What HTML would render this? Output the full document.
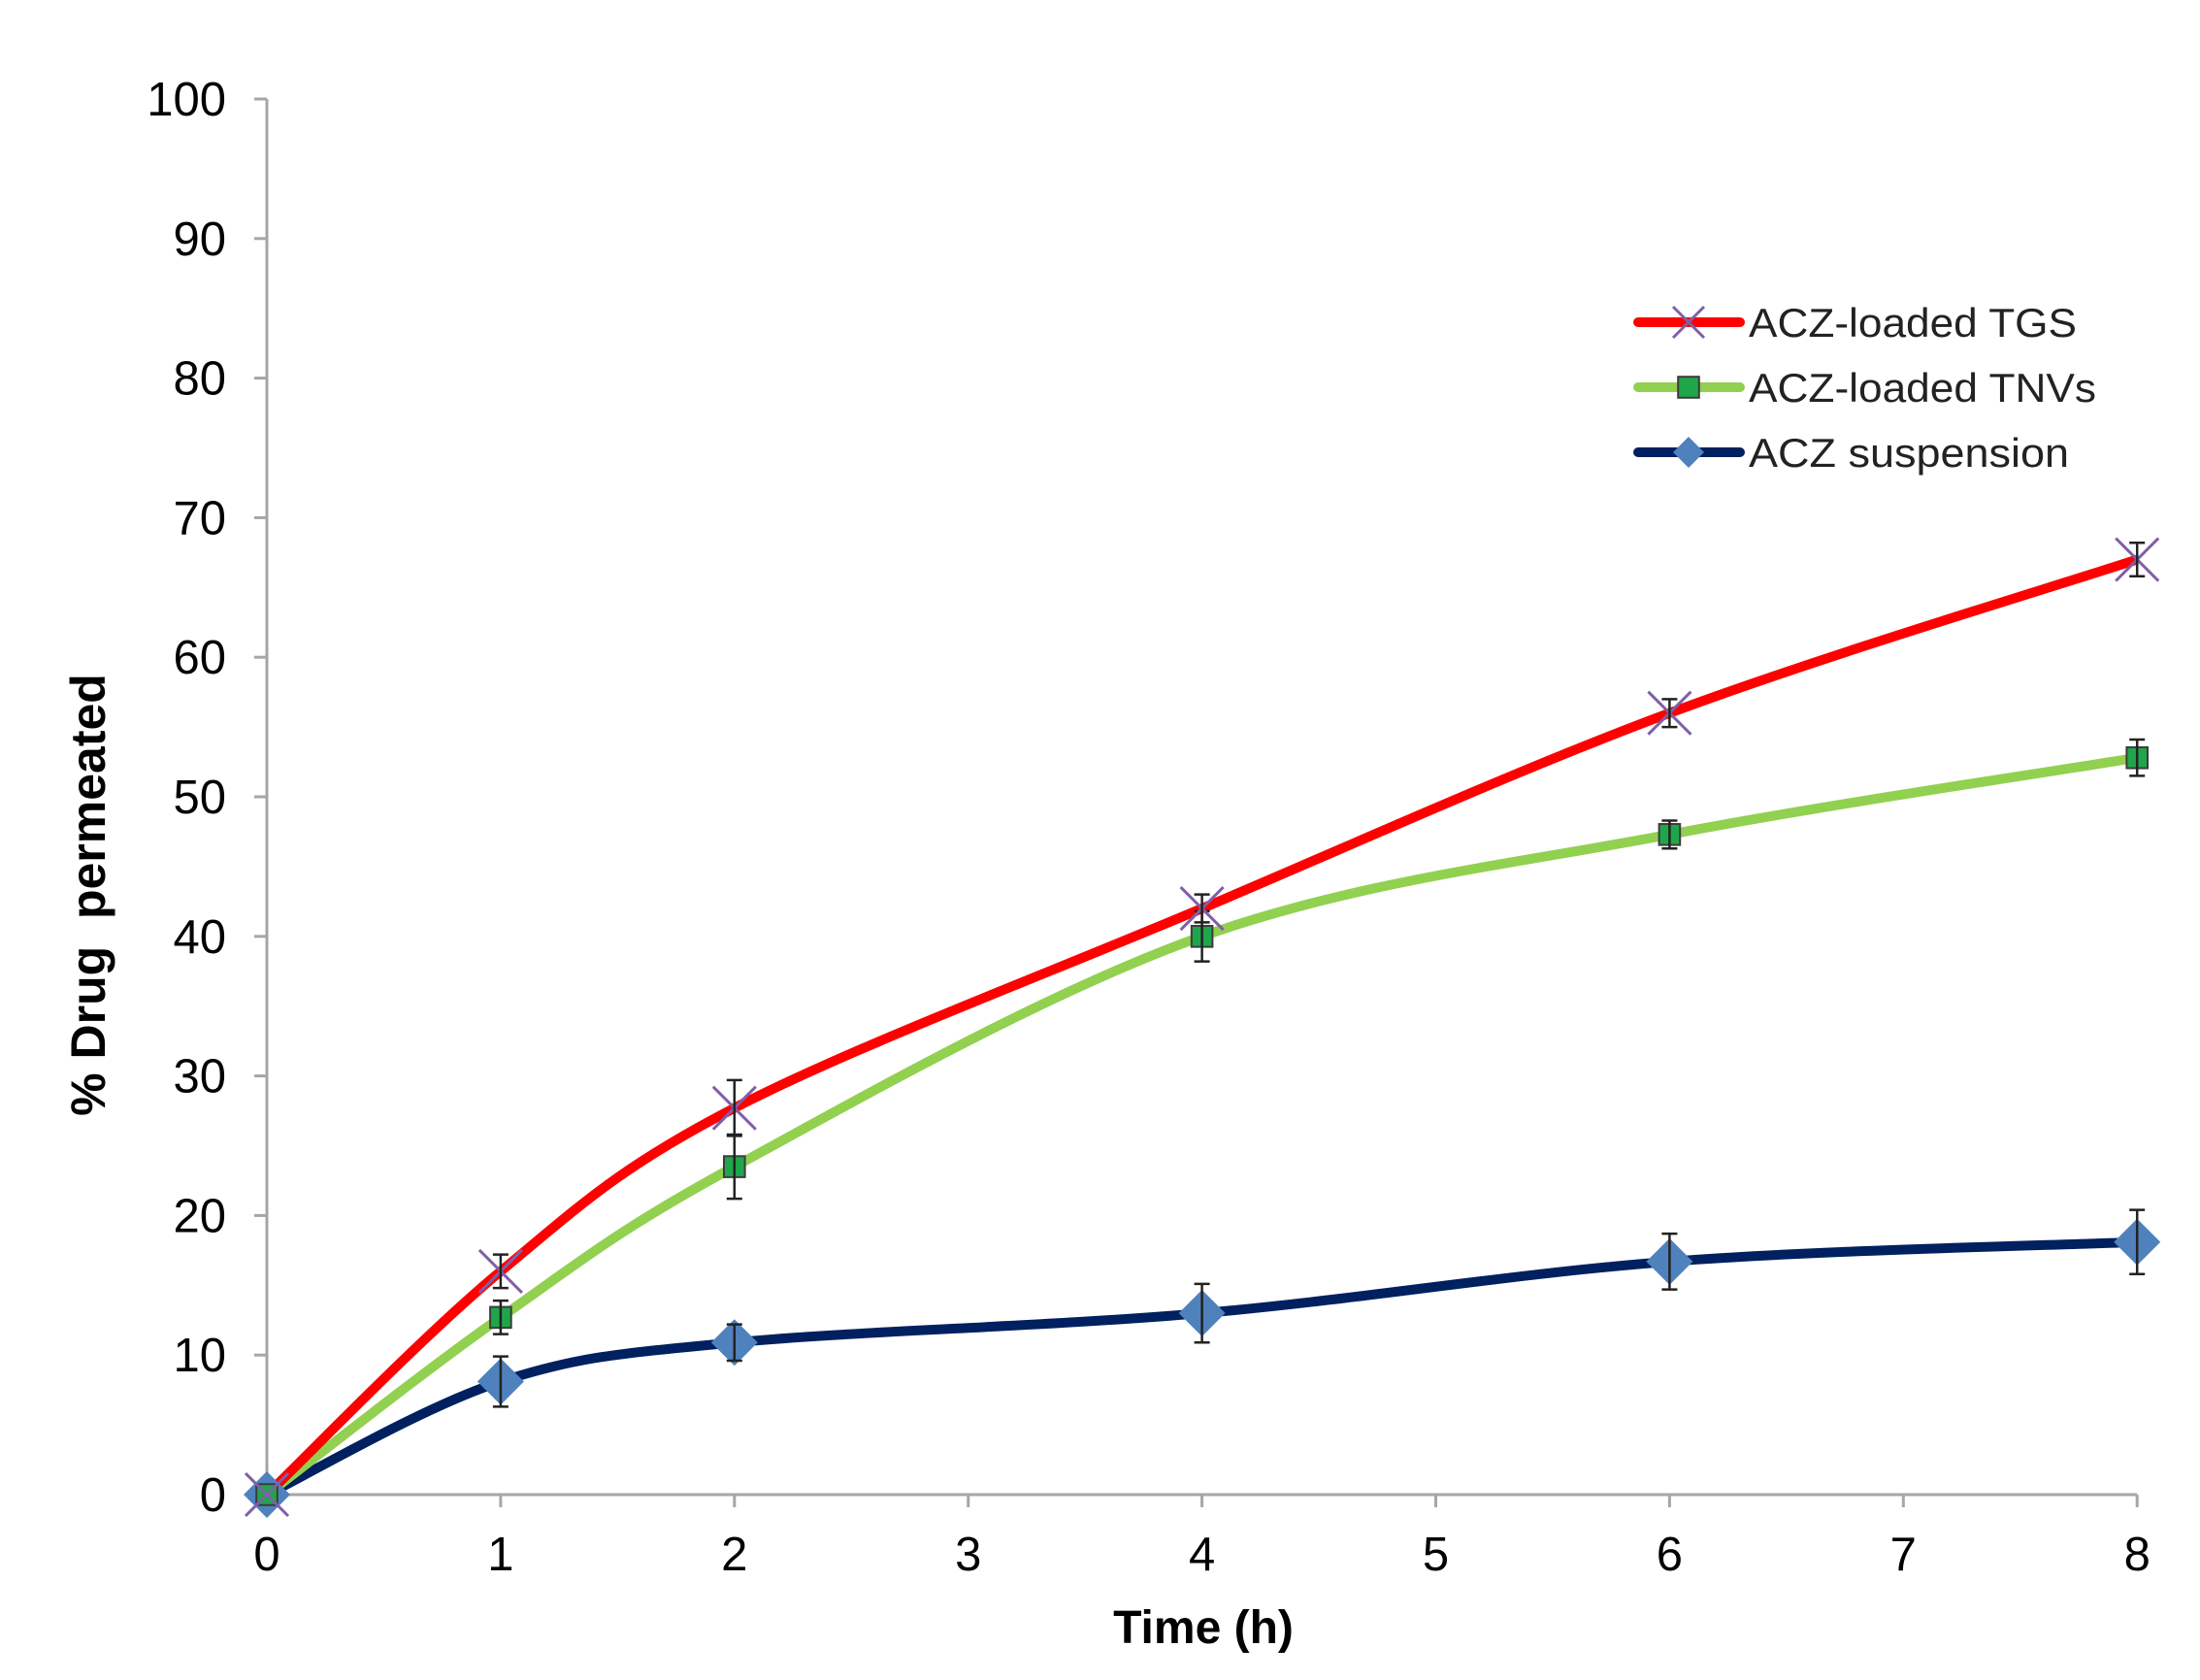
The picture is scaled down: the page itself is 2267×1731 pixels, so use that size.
<!DOCTYPE html>
<html><head><meta charset="utf-8"><style>
html,body{margin:0;padding:0;background:#fff;}
svg{display:block;}
text{font-family:"Liberation Sans",Arial,sans-serif;}
</style></head><body>
<svg id="s" width="2267" height="1731" viewBox="0 0 2267 1731" xmlns="http://www.w3.org/2000/svg">
<rect width="2267" height="1731" fill="#fff"/>
<g id="axes" stroke="#a6a6a6" stroke-width="3" fill="none"></g>
<g id="labels" font-size="49" fill="#000"></g>
<text x="108" y="922" transform="rotate(-90 108 922)" text-anchor="middle" font-size="50" font-weight="bold" xml:space="preserve">% Drug  permeated</text>
<text x="1240" y="1693" text-anchor="middle" font-size="48" font-weight="bold">Time (h)</text>
<g id="plot"></g>
<g id="legend"></g>
</svg>
<script>
const NS="http://www.w3.org/2000/svg";
const X=t=>275+240.9*t, Y=v=>1540-14.38*v;
function el(p,tag,a,txt){const e=document.createElementNS(NS,tag);for(const k in a)e.setAttribute(k,a[k]);if(txt!==undefined)e.textContent=txt;p.appendChild(e);return e;}
const ax=document.getElementById('axes'),lb=document.getElementById('labels'),pl=document.getElementById('plot'),lg=document.getElementById('legend');
el(ax,'line',{x1:275,y1:Y(100),x2:275,y2:Y(0)});
el(ax,'line',{x1:275,y1:Y(0),x2:X(8),y2:Y(0)});
for(let v=0;v<=100;v+=10){el(ax,'line',{x1:262,y1:Y(v),x2:275,y2:Y(v)});el(lb,'text',{x:233,y:Y(v)+17,'text-anchor':'end'},v);}
for(let t=0;t<=8;t++){el(ax,'line',{x1:X(t),y1:Y(0),x2:X(t),y2:Y(0)+13});el(lb,'text',{x:X(t),y:1618,'text-anchor':'middle'},t);}
const T=[0,1,2,4,6,8];
const S=[
 {c:'#ff0000',v:[0,16,27.7,42,56,67],e:[0,1.2,2,1,1,1.2],m:'x'},
 {c:'#92d050',v:[0,12.7,23.5,40,47.3,52.8],e:[0,1.2,2.3,1.8,1,1.3],m:'sq'},
 {c:'#002060',v:[0,8.1,10.9,13,16.7,18.1],e:[0,1.8,1.3,2.1,2,2.3],m:'d'}];
function path(pts){let d=`M${pts[0][0]},${pts[0][1]}`;for(let i=0;i<pts.length-1;i++){const p0=pts[i-1]||pts[i],p1=pts[i],p2=pts[i+1],p3=pts[i+2]||p2;const k=1/6;
d+=` C${p1[0]+(p2[0]-p0[0])*k},${p1[1]+(p2[1]-p0[1])*k} ${p2[0]-(p3[0]-p1[0])*k},${p2[1]-(p3[1]-p1[1])*k} ${p2[0]},${p2[1]}`;}return d;}
function marker(g,m,x,y,s){
 if(m==='x'){el(g,'path',{d:`M${x-s},${y-s}L${x+s},${y+s}M${x-s},${y+s}L${x+s},${y-s}`,stroke:'#7f5fa8','stroke-width':3,fill:'none'});}
 else if(m==='sq'){el(g,'rect',{x:x-s*0.6,y:y-s*0.6,width:s*1.2,height:s*1.2,fill:'#1fa64a',stroke:'#3c3c3c','stroke-width':2});}
 else {el(g,'path',{d:`M${x},${y-s}L${x+s},${y}L${x},${y+s}L${x-s},${y}Z`,fill:'#4f81bd'});}
}
S.slice().reverse().forEach(s=>{
 const pts=T.map((t,i)=>[X(t),Y(s.v[i])]);
 el(pl,'path',{d:path(pts),stroke:s.c,'stroke-width':10,fill:'none','stroke-linejoin':'round'});
});
S.slice().reverse().forEach(s=>{
 T.forEach((t,i)=>{const x=X(t),y=Y(s.v[i]);
  marker(pl,s.m,x,y,s.m==='d'?24:(s.m==='sq'?18:22));
  if(s.e[i]){const y1=Y(s.v[i]+s.e[i]),y2=Y(s.v[i]-s.e[i]);
   el(pl,'path',{d:`M${x},${y1}L${x},${y2}M${x-8},${y1}L${x+8},${y1}M${x-8},${y2}L${x+8},${y2}`,stroke:'#222','stroke-width':2.5,fill:'none'});}
 });
});
const names=['ACZ-loaded TGS','ACZ-loaded TNVs','ACZ suspension'];
[332,399,466].forEach((y,i)=>{const s=S[i];
 el(lg,'line',{x1:1688,y1:y,x2:1793,y2:y,stroke:s.c,'stroke-width':10,'stroke-linecap':'round'});
 marker(lg,s.m,1740,y,s.m==='d'?16:(s.m==='sq'?18:16));
 el(lg,'text',{x:1802,y:y+15,'font-size':42,fill:'#222',textLength:s.m==='sq'?358:(s.m==='x'?338:330),lengthAdjust:'spacingAndGlyphs'},names[i]);
});
</script>
</body></html>
